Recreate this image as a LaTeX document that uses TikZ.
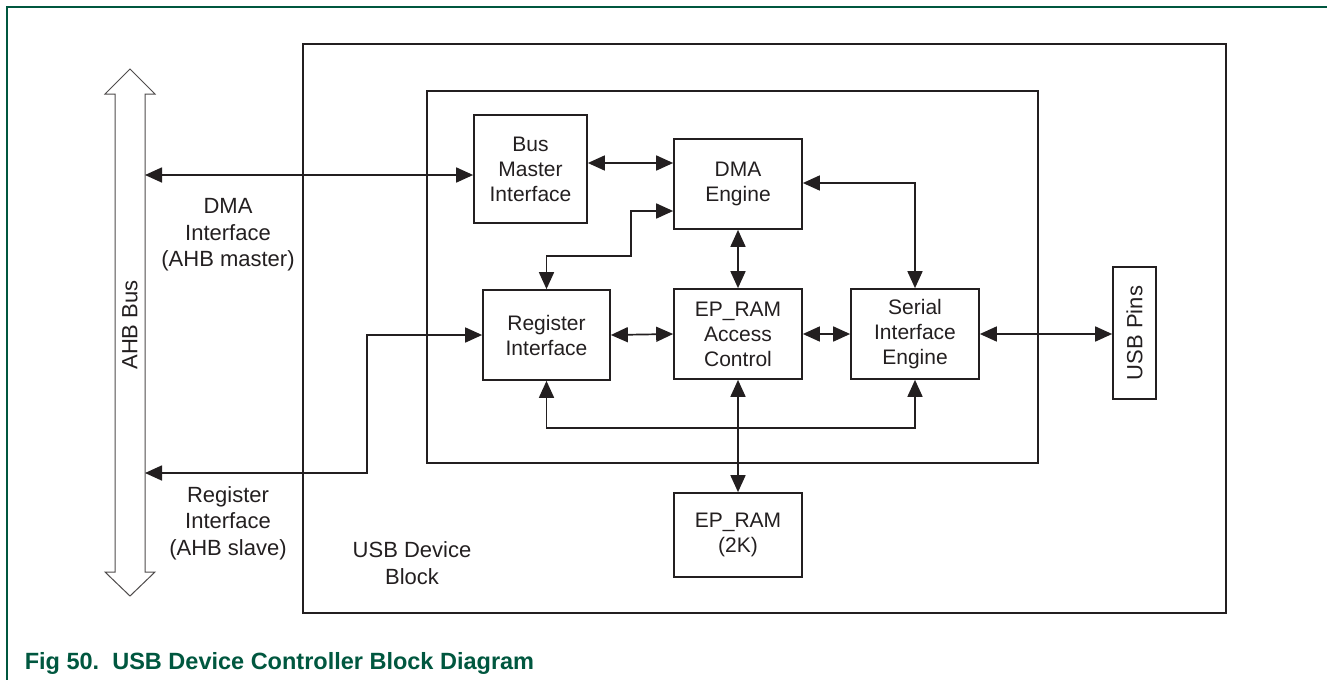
\documentclass[tikz,border=0pt]{standalone}
\usepackage{fontspec}
\setmainfont{Liberation Sans}
\usetikzlibrary{arrows.meta}
\definecolor{ink}{HTML}{231F20}
\definecolor{nxpgreen}{HTML}{00573F}
\begin{document}
\begin{tikzpicture}[x=1pt,y=-1pt,
  line width=1.7pt, draw=ink,
  blk/.style={draw=ink, line width=1.7pt, inner sep=0pt, align=center,
    font=\fontsize{21}{25}\selectfont, text=ink},
  lbl/.style={inner sep=0pt, align=center, font=\fontsize{22}{26.5}\selectfont, text=ink},
  arr/.style={draw=ink, line width=1.7pt, {Triangle[length=17pt,width=15pt]}-{Triangle[length=17pt,width=15pt]}},
  container/.style={draw=ink, line width=1.7pt, inner sep=0pt}
]
\useasboundingbox (0,0) rectangle (1327,680);
% page frame
\draw[nxpgreen, line width=1.2pt] (1327,7) -- (7,7) -- (7,680);

% containers
\node[container, minimum width=923pt, minimum height=569pt] (outer) at (764.5,328.5) {};
\node[container, minimum width=611pt, minimum height=372pt] (inner) at (732.5,277) {};

% AHB bus (hollow double arrow)
\draw[ink!80, line width=1pt, fill=white]
  (130,69) -- (105,94) -- (115,94) -- (115,572) -- (105,572) -- (130,596)
  -- (155,572) -- (145,572) -- (145,94) -- (155,94) -- cycle;
\node[lbl, rotate=90] (ahb) at (130,325) {AHB Bus};
\coordinate (busDMA) at (145,175);
\coordinate (busREG) at (145,473);

% blocks
\node[blk, minimum width=113pt, minimum height=108pt] (bmi) at (530.5,169) {Bus\\Master\\Interface};
\node[blk, minimum width=128pt, minimum height=90pt] (dma) at (738,184) {DMA\\Engine};
\node[blk, minimum width=127pt, minimum height=90pt] (reg) at (546.5,335) {Register\\Interface};
\node[blk, minimum width=128pt, minimum height=90pt] (epac) at (738,334) {EP\_RAM\\Access\\Control};
\node[blk, minimum width=128pt, minimum height=90pt] (sie) at (915,334) {Serial\\Interface\\Engine};
\node[blk, minimum width=43pt, minimum height=132pt] (pins) at (1134.5,333) {};
\node[lbl, rotate=90] at (pins.center) {USB Pins};
\node[blk, minimum width=128pt, minimum height=84pt] (epram) at (738,535) {EP\_RAM\\(2K)};

% labels
\node[lbl] (dmalbl) at (228,235) {DMA\\Interface\\(AHB master)};
\node[lbl] (reglbl) at (228,523) {Register\\Interface\\(AHB slave)};
\node[lbl] (usbblk) at (412,563) {USB Device\\Block};

% connectors
\draw[arr] (busDMA) -- (busDMA -| bmi.west);
\draw[arr] (busREG) -- (367,473) -- (367,335) -- (reg.west);
\draw[arr] (bmi.east |- {(0,163)}) -- (dma.west |- {(0,163)});
\draw[arr] (reg.north) -- (reg.north |- {(0,256)}) -- (631,256) -- (631,211) -- (dma.west |- {(0,211)});
\draw[arr] (dma.east |- {(0,183)}) -- (915,183) -- (sie.north);
\draw[arr] (dma.south) -- (epac.north);
\draw[arr] (reg.east) -- (epac.west);
\draw[arr] (epac.east) -- (sie.west);
\draw[arr] (sie.east) -- (sie.east -| pins.west);
\draw[arr] (reg.south) -- (reg.south |- {(0,428)}) -- (sie.south |- {(0,428)}) -- (sie.south);
\draw[arr] (epac.south) -- (epram.north);

% caption
\node[anchor=base west, inner sep=0pt, text=nxpgreen,
  font=\fontsize{23.5}{28}\selectfont\bfseries] (cap) at (24,669)
  {Fig 50.\ \ USB Device Controller Block Diagram};
\end{tikzpicture}
\end{document}
